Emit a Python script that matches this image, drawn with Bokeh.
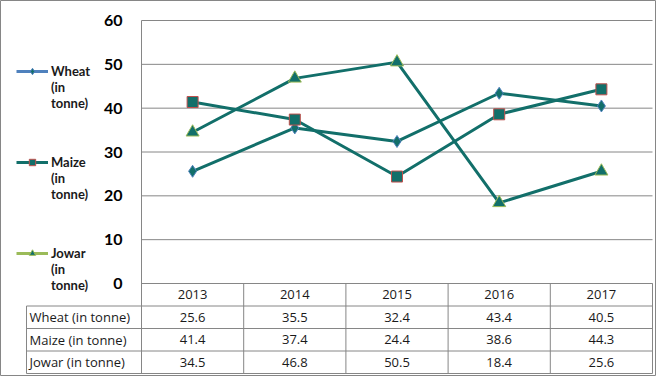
from bokeh.plotting import figure
from bokeh.models import (Range1d, FixedTicker, Legend, LegendItem, ColumnDataSource)
from bokeh.core.properties import value
from bokeh.embed import file_html
from bokeh.resources import INLINE

# ---------------- data ----------------
years = ["2013", "2014", "2015", "2016", "2017"]
wheat = [25.6, 35.5, 32.4, 43.4, 40.5]
maize = [41.4, 37.4, 24.4, 38.6, 44.3]
jowar = [34.5, 46.8, 50.5, 18.4, 25.6]
series_names = ["Wheat (in tonne)", "Maize (in tonne)", "Jowar (in tonne)"]
# two leading blank lines keep the legend marker level with the first text line
legend_labels = ["\n\nWheat\n(in\ntonne)", "\n\nMaize\n(in\ntonne)", "\n\nJowar\n(in\ntonne)"]
y_ticks = [0, 10, 20, 30, 40, 50, 60]

# ---------------- layout constants (pixels) ----------------
W, H = 656, 376
PLOT_L, PLOT_R = 141, 652          # plot area left / right
Y60, Y0 = 20, 283                  # pixel rows of 60 and 0
ROW_PX = 22.5                      # table row height
CAT_PX = (PLOT_R - PLOT_L) / len(years)
PX_PER_UNIT = (Y0 - Y60) / 60.0

TEAL = "#126F6A"
GRID = "#868686"
BLUE = "#4F81BD"
RED = "#C0504D"
GREEN = "#9BBB59"
FONT = "Lato"
TFONT = "Open Sans"
TCOL = "#1a1a1a"

x_start = -PLOT_L / CAT_PX
x_end = (W - PLOT_L) / CAT_PX
y_start = -(H - Y0) / PX_PER_UNIT
y_end = 60 + Y60 / PX_PER_UNIT

p = figure(width=W, height=H, output_backend="svg", toolbar_location=None,
           x_range=Range1d(x_start, x_end), y_range=Range1d(y_start, y_end),
           x_axis_location=None, min_border=0)
p.extra_y_ranges = {"tbl": Range1d(start=(H - Y0) / ROW_PX, end=-Y0 / ROW_PX)}
p.outline_line_color = GRID
p.outline_line_width = 1
p.background_fill_color = "white"
p.border_fill_color = "white"
p.grid.visible = False

# category positions through the numeric scale (one unit per category)
xs = [i + 0.5 for i in range(len(years))]
n_cols = len(years)
n_rows = len(series_names)
tbl_bottom_y = -(n_rows + 1) * ROW_PX / PX_PER_UNIT

# y axis, drawn at the left edge of the plot area
yax = p.yaxis[0]
yax.fixed_location = 0
yax.bounds = (tbl_bottom_y, 60)
yax.ticker = FixedTicker(ticks=y_ticks)
yax.axis_line_color = GRID
yax.axis_line_width = 1
yax.major_tick_line_color = None
yax.minor_tick_line_color = None
yax.major_tick_out = 0
yax.major_tick_in = 0
yax.major_label_standoff = 19
yax.major_label_text_font = FONT
yax.major_label_text_font_style = "bold"
yax.major_label_text_font_size = "16px"
yax.major_label_text_color = "#000000"

# horizontal gridlines across the plot area
p.segment(x0=[0] * len(y_ticks), x1=[n_cols] * len(y_ticks), y0=y_ticks, y1=y_ticks,
          line_color=GRID, line_width=1)

# ---------------- series ----------------
for vals in (wheat, maize, jowar):
    p.line(xs, vals, line_color=TEAL, line_width=3)

m_wheat = p.scatter(xs, wheat, marker="diamond", size=12, fill_color=TEAL,
                    line_color=BLUE, line_width=1)
m_maize = p.scatter(xs, maize, marker="square", size=11, fill_color=TEAL,
                    line_color=RED, line_width=1)
m_jowar = p.scatter(xs, jowar, marker="triangle", size=13, fill_color=TEAL,
                    line_color=GREEN, line_width=1)

# legend sample lines (theme colours); no visible data points of their own
nan = float("nan")
proxy = ColumnDataSource(data=dict(x=[nan, nan], y=[nan, nan]))
l_wheat = p.line("x", "y", source=proxy, line_color=BLUE, line_width=3)
l_maize = p.line("x", "y", source=proxy, line_color=TEAL, line_width=3)
l_jowar = p.line("x", "y", source=proxy, line_color=GREEN, line_width=3)

legend = Legend(items=[
    LegendItem(label=legend_labels[0], renderers=[l_wheat, m_wheat]),
    LegendItem(label=legend_labels[1], renderers=[l_maize, m_maize]),
    LegendItem(label=legend_labels[2], renderers=[l_jowar, m_jowar]),
], location=(16, 83))
legend.padding = 0
legend.margin = 0
legend.spacing = 11
legend.border_line_color = None
legend.background_fill_alpha = 0
legend.glyph_width = 32
legend.glyph_height = 16
legend.label_standoff = 3
legend.label_text_font = FONT
legend.label_text_font_style = "bold"
legend.label_text_font_size = "13px"
legend.label_text_color = TCOL
legend.label_text_line_height = 1.3
p.add_layout(legend)

# ---------------- data table ----------------
label_left = -(PLOT_L - 26) / CAT_PX
p.segment(x0=[0], x1=[n_cols], y0=[0], y1=[0], y_range_name="tbl",
          line_color=GRID, line_width=1)
hl = list(range(1, n_rows + 2))
p.segment(x0=[label_left] * len(hl), x1=[n_cols] * len(hl), y0=hl, y1=hl,
          y_range_name="tbl", line_color=GRID, line_width=1)
vl = list(range(1, n_cols + 1))
p.segment(x0=vl, x1=vl, y0=[0] * len(vl), y1=[n_rows + 1] * len(vl),
          y_range_name="tbl", line_color=GRID, line_width=1)
p.segment(x0=[label_left], x1=[label_left], y0=[1], y1=[n_rows + 1],
          y_range_name="tbl", line_color=GRID, line_width=1)

TSIZE = "13px"
p.text(x=xs, y=[0.5] * n_cols, text=years, y_range_name="tbl",
       text_align="center", text_baseline="middle", text_color=TCOL,
       text_font=value(TFONT), text_font_size=TSIZE)
for i, vals in enumerate((wheat, maize, jowar)):
    p.text(x=xs, y=[i + 1.5] * n_cols, text=[f"{v:.1f}" for v in vals],
           y_range_name="tbl", text_align="center", text_baseline="middle",
           text_color=TCOL, text_font=value(TFONT), text_font_size=TSIZE)
p.text(x=[label_left + 3 / CAT_PX] * n_rows, y=[i + 1.5 for i in range(n_rows)],
       text=series_names, y_range_name="tbl", text_align="left",
       text_baseline="middle", text_color=TCOL, text_font=value(TFONT),
       text_font_size=TSIZE)

open("out.html", "w").write(file_html(p, INLINE))
